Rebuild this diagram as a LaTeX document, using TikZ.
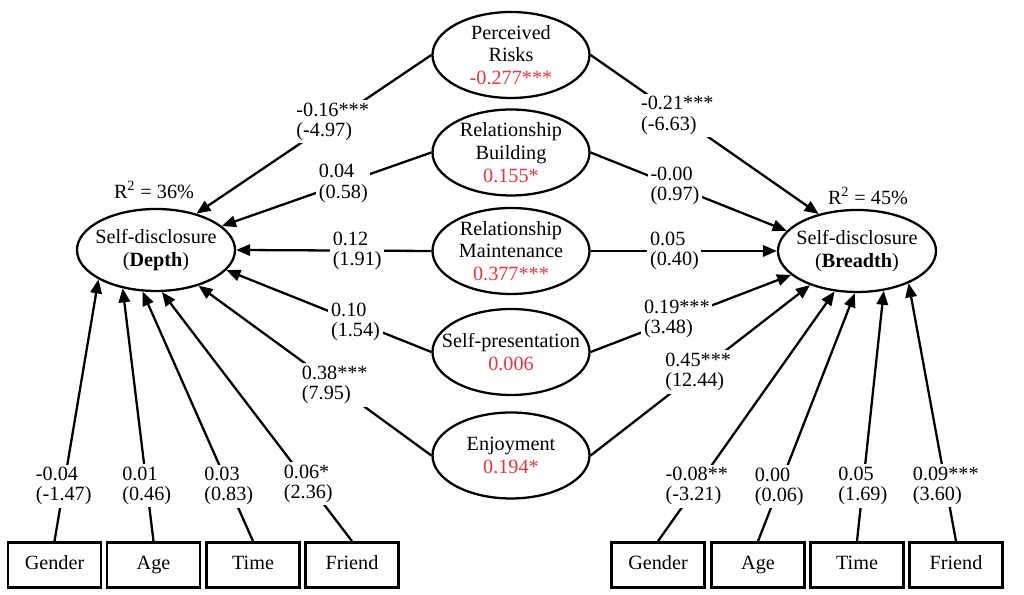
\documentclass[tikz,border=0pt]{standalone}
\usepackage{fontspec}
\setmainfont{Liberation Serif}
\usetikzlibrary{arrows.meta,shapes.geometric}
\definecolor{Signif}{HTML}{E5373D}

\begin{document}
\begin{tikzpicture}[
      latent/.style={ellipse,draw,line width=1.3pt,minimum width=3.14cm,minimum height=1.72cm,
        inner xsep=-8pt,inner ysep=-2pt,align=center,font=\fontsize{11.5}{13}\selectfont},
      outcome/.style={latent,minimum width=3.16cm,minimum height=1.64cm},
      ctrl/.style={draw,line width=1.5pt,minimum width=1.86cm,minimum height=0.9cm,inner sep=0pt,
        text height=1.6ex,text depth=.4ex,font=\fontsize{11.5}{13}\selectfont},
      coef/.style={fill=white,inner sep=1.5pt,align=left,font=\fontsize{11.5}{11.5}\selectfont},
      effect/.style={line width=1.3pt,-{Triangle[length=8pt,width=6.5pt]}}]
      \useasboundingbox (0,0) rectangle (20.48,11.9);
      % motives
      \node[latent] (pr) at (10.22,10.8) {Perceived\\Risks\\\textcolor{Signif}{-0.277***}};
      \node[latent] (rb) at (10.22,8.85) {Relationship\\Building\\\textcolor{Signif}{0.155*}};
      \node[latent] (rm) at (10.22,6.88) {Relationship\\Maintenance\\\textcolor{Signif}{0.377***}};
      \node[latent] (sp) at (10.22,4.86) {Self-presentation\\\textcolor{Signif}{0.006}};
      \node[latent] (en) at (10.22,2.79) {Enjoyment\\\textcolor{Signif}{0.194*}};
      % outcomes
      \node[outcome] (depth) at (3.12,6.9) {Self-disclosure\\(\textbf{Depth})};
      \node[outcome] (breadth) at (17.14,6.88) {Self-disclosure\\(\textbf{Breadth})};
      \node[font=\fontsize{11.5}{13}\selectfont] (r2d) at (3.08,8.1) {R\textsuperscript{2} = 36\%};
      \node[font=\fontsize{11.5}{13}\selectfont] (r2b) at (17.36,7.98) {R\textsuperscript{2} = 45\%};
      % controls
      \node[ctrl] (genL) at (1.09,0.6) {Gender};
      \node[ctrl] (ageL) at (3.07,0.6) {Age};
      \node[ctrl] (timeL) at (5.06,0.6) {Time};
      \node[ctrl] (friL) at (7.04,0.6) {Friend};
      \node[ctrl] (genR) at (13.16,0.6) {Gender};
      \node[ctrl] (ageR) at (15.16,0.6) {Age};
      \node[ctrl] (timeR) at (17.14,0.6) {Time};
      \node[ctrl] (friR) at (19.12,0.6) {Friend};
      % paths to depth
      \draw[effect] (pr.west) -- node[coef,pos=.42] (dpr) {-0.16***\\(-4.97)} (depth.42);
      \draw[effect] (rb.west) -- node[coef,pos=.42] (drb) {0.04\\(0.58)} (depth.20);
      \draw[effect] (rm.west) -- node[coef,pos=.38] (drm) {0.12\\(1.91)} (depth.east);
      \draw[effect] (sp.west) -- node[coef,pos=.37] (dsp) {0.10\\(1.54)} (depth.344);
      \draw[effect] (en.west) -- node[coef,pos=.415] (den) {0.38***\\(7.95)} (depth.320);
      % paths to breadth
      \draw[effect] (pr.east) -- node[coef,pos=.38] (bpr) {-0.21***\\(-6.63)} (breadth.136);
      \draw[effect] (rb.east) -- node[coef,pos=.43] (brb) {-0.00\\(0.97)} (breadth.164);
      \draw[effect] (rm.east) -- node[coef,pos=.45] (brm) {0.05\\(0.40)} (breadth.west);
      \draw[effect] (sp.east) -- node[coef,pos=.43] (bsp) {0.19***\\(3.48)} (breadth.200);
      \draw[effect] (en.east) -- node[coef,pos=.49] (ben) {0.45***\\(12.44)} (breadth.216);
      % control effects
      \draw[effect] (genL.north) -- node[coef,pos=.21] (dgen) {-0.04\\(-1.47)} (depth.207);
      \draw[effect] (ageL.north) -- node[coef,pos=.22] (dage) {0.01\\(0.46)} (depth.229);
      \draw[effect] (timeL.north) -- node[coef,pos=.22] (dtim) {0.03\\(0.83)} (depth.252);
      \draw[effect] (friL.north) -- node[coef,pos=.23] (dfri) {0.06*\\(2.36)} (depth.278);
      \draw[effect] (genR.north) -- node[coef,pos=.22] (bgen) {-0.08**\\(-3.21)} (breadth.241);
      \draw[effect] (ageR.north) -- node[coef,pos=.22] (bage) {0.00\\(0.06)} (breadth.267);
      \draw[effect] (timeR.north) -- node[coef,pos=.22] (btim) {0.05\\(1.69)} (breadth.304);
      \draw[effect] (friR.north) -- node[coef,pos=.215] (bfri) {0.09***\\(3.60)} (breadth.328);
    \end{tikzpicture}
\end{document}
